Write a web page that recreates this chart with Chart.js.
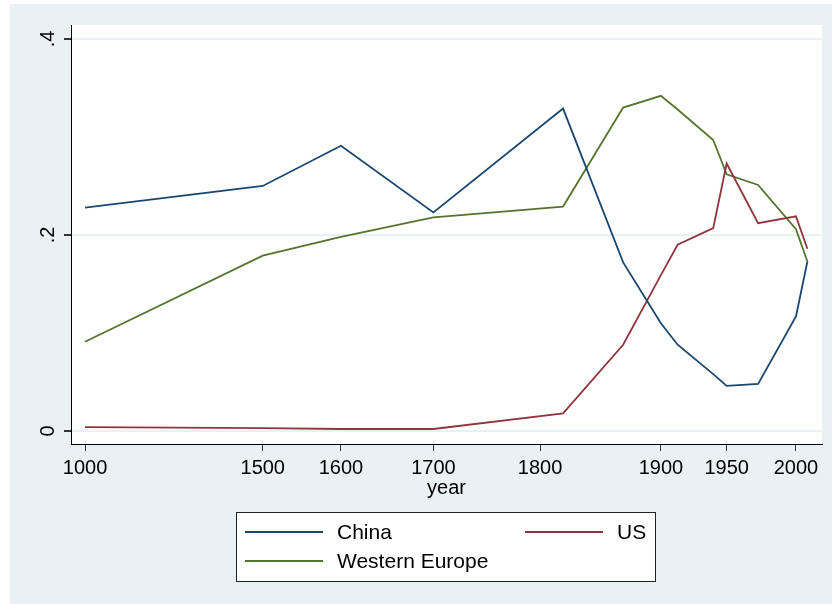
<!DOCTYPE html>
<html>
<head>
<meta charset="utf-8">
<script src="https://cdn.jsdelivr.net/npm/chart.js@4"></script>
<style>
  html, body { margin: 0; padding: 0; background: #fff; }
  #wrap { position: relative; width: 832px; height: 604px; }
</style>
</head>
<body>
<div id="wrap"><canvas id="chart" width="832" height="604"></canvas></div>
<script>
// ── Data (share of world GDP) ─────────────────────────────────────────
const years      = [1000, 1500, 1600, 1700, 1820, 1870, 1900, 1913, 1940, 1950, 1973, 2000, 2008];
const china      = [0.228, 0.250, 0.291, 0.223, 0.329, 0.172, 0.110, 0.088, 0.058, 0.046, 0.048, 0.117, 0.173];
const us         = [0.004, 0.003, 0.002, 0.002, 0.018, 0.088, 0.159, 0.190, 0.207, 0.273, 0.212, 0.219, 0.186];
const westEurope = [0.091, 0.179, 0.198, 0.218, 0.229, 0.330, 0.342, 0.328, 0.297, 0.262, 0.251, 0.206, 0.173];

const xTickYears = [1000, 1500, 1600, 1700, 1800, 1900, 1950, 2000];
const yTicks     = [0, 0.2, 0.4];
const yTickLabels = ['0', '.2', '.4'];

// the year axis is stretched quadratically from 1000
const tx = y => (y - 1000) * (y - 1000);

const navy   = '#1a476f';
const maroon = '#90353b';
const green  = '#55752f';
const bgCol  = '#e9f1f3';
const FONT   = '"Liberation Sans", Arial, sans-serif';

Chart.defaults.font.family = FONT;
Chart.defaults.color = '#000';

const series = (label, vals, color) => ({
  label, borderColor: color, backgroundColor: color,
  data: years.map((y, i) => ({ x: tx(y), y: vals[i] })),
  borderWidth: 1.8, pointRadius: 0, tension: 0, fill: false,
});

// ── Background, y labels and legend box ───────────────────────────────
const stataPlugin = {
  id: 'stata',
  beforeDraw(chart) {
    const { ctx, chartArea: a } = chart;
    ctx.save();
    ctx.fillStyle = '#fff';
    ctx.fillRect(0, 0, chart.width, chart.height);
    ctx.fillStyle = bgCol;
    ctx.fillRect(10, 4, chart.width - 10, chart.height - 4);
    ctx.fillStyle = '#fff';
    ctx.fillRect(a.left, a.top, a.right - a.left, a.bottom - a.top);
    ctx.restore();
  },
  afterDraw(chart) {
    const { ctx } = chart;
    const ys = chart.scales.y;
    ctx.save();
    ctx.fillStyle = '#000';
    ctx.font = '20px ' + FONT;
    ctx.textAlign = 'center';
    ctx.textBaseline = 'alphabetic';
    yTicks.forEach((v, i) => {
      ctx.save();
      ctx.translate(54, ys.getPixelForValue(v));
      ctx.rotate(-Math.PI / 2);
      ctx.fillText(yTickLabels[i], 0, 0);
      ctx.restore();
    });

    // legend
    ctx.fillStyle = '#fff';
    ctx.fillRect(236, 512, 419, 69);
    ctx.strokeStyle = '#222';
    ctx.lineWidth = 1;
    ctx.strokeRect(236.5, 512.5, 419, 69);
    ctx.font = '21px ' + FONT;
    const slots = [[245, 532], [525, 532], [245, 561]];
    chart.data.datasets.forEach((ds, i) => {
      const [lx, ly] = slots[i];
      ctx.strokeStyle = ds.borderColor;
      ctx.lineWidth = 1.8;
      ctx.beginPath();
      ctx.moveTo(lx, ly);
      ctx.lineTo(lx + 78, ly);
      ctx.stroke();
      ctx.fillStyle = '#000';
      ctx.textAlign = 'left';
      ctx.textBaseline = 'middle';
      ctx.fillText(ds.label, lx + 92, ly + 1);
    });
    ctx.restore();
  }
};

new Chart(document.getElementById('chart'), {
  type: 'line',
  data: {
    datasets: [
      series('China', china, navy),
      series('US', us, maroon),
      series('Western Europe', westEurope, green),
    ]
  },
  options: {
    responsive: false, animation: false,
    layout: { padding: { left: 10, right: 10, top: 25, bottom: 104 } },
    plugins: { legend: { display: false }, tooltip: { enabled: false } },
    scales: {
      x: {
        type: 'linear', min: -19700, max: 1036600,
        afterBuildTicks: s => { s.ticks = xTickYears.map(y => ({ value: tx(y) })); },
        afterFit: s => { s.height = 56; },
        ticks: {
          font: { size: 20 }, color: '#000', padding: 5, maxRotation: 0, autoSkip: false,
          callback: (v, i) => String(xTickYears[i]),
        },
        grid: { drawOnChartArea: false, drawTicks: true, tickLength: 7, tickColor: '#333' },
        border: { color: '#000', width: 1 },
        title: { display: true, text: 'year', font: { size: 20 }, color: '#000', padding: 0 },
      },
      y: {
        type: 'linear', min: -0.0133, max: 0.4143,
        afterBuildTicks: s => { s.ticks = yTicks.map(v => ({ value: v })); },
        afterFit: s => { s.width = 61; },
        ticks: { display: false },
        grid: { color: bgCol, lineWidth: 2, drawTicks: true, tickLength: 7, tickColor: '#333' },
        border: { color: '#000', width: 1 },
      }
    }
  },
  plugins: [stataPlugin]
});
</script>
</body>
</html>
